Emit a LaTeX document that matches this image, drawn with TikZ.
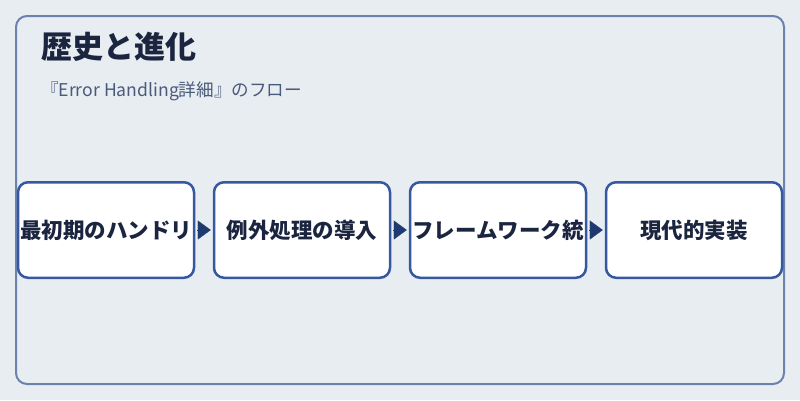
\documentclass[tikz,border=0pt]{standalone}
\usepackage{fontspec}
\setmainfont{Noto Sans CJK JP}
\usetikzlibrary{arrows.meta}
\definecolor{bgc}{HTML}{E8EDF2}
\definecolor{framec}{HTML}{6B82AD}
\definecolor{boxc}{HTML}{3558A0}
\definecolor{arrc}{HTML}{1F3A70}
\definecolor{titlec}{HTML}{1B2540}
\definecolor{subc}{HTML}{4A5A7A}
\tikzset{
  stepbox/.style={draw=boxc, line width=2.5pt, fill=white, rounded corners=10pt,
    minimum width=176pt, minimum height=95.5pt, inner sep=0pt,
    font=\fontsize{21.5}{24}\selectfont\bfseries, text=titlec},
  flowarrow/.style={draw=arrc, line width=0.2pt, shorten <=2pt, shorten >=2pt,
    -{Triangle[length=13pt,width=19pt]}, arrc},
}
\begin{document}
\begin{tikzpicture}[x=1pt,y=-1pt]
\useasboundingbox (0,0) rectangle (800,400);
\fill[bgc] (0,0) rectangle (800,400);
\draw[framec, line width=2pt, rounded corners=11pt] (16,16) rectangle (784,384);
\node[anchor=base west, inner sep=0pt, text=titlec, font=\fontsize{31}{35}\selectfont\bfseries] (title) at (41,58.5) {歴史と進化};
\node[anchor=base west, inner sep=0pt, text=subc, font=\fontsize{17.6}{21}\selectfont] (sub) at (41,96) {『Error Handling詳細』のフロー};
\node[stepbox] (b1) at (106,230) {最初期のハンドリ};
\node[stepbox] (b2) at (302,230) {例外処理の導入};
\node[stepbox] (b3) at (498,230) {フレームワーク統};
\node[stepbox] (b4) at (694,230) {現代的実装};
\draw[flowarrow] (b1.east) -- (b2.west);
\draw[flowarrow] (b2.east) -- (b3.west);
\draw[flowarrow] (b3.east) -- (b4.west);
\end{tikzpicture}
\end{document}
